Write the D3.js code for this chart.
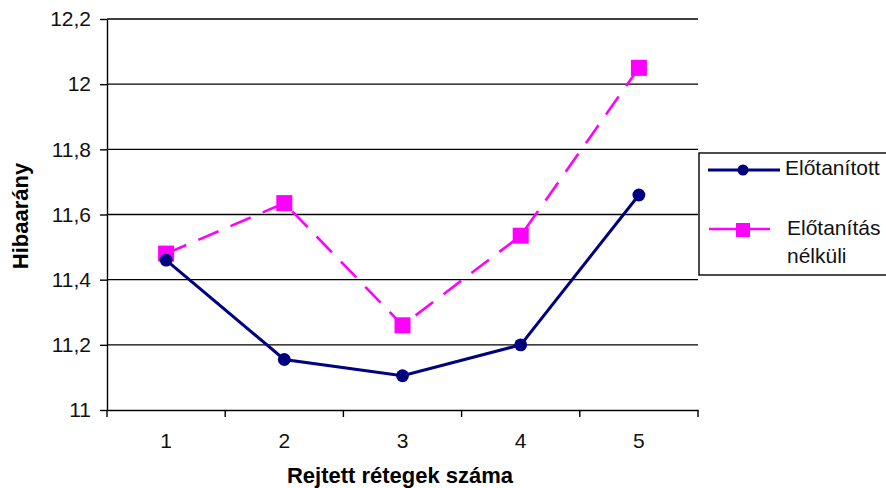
<!DOCTYPE html>
<html>
<head>
<meta charset="utf-8">
<script src="https://d3js.org/d3.v7.min.js"></script>
<style>
  body { margin: 0; background: #fff; }
  svg { font-family: "Liberation Sans", Arial, sans-serif; }
  .grid line { stroke: #000; stroke-width: 1.4px; }
  .axis path, .axis line { stroke: #000; stroke-width: 1.4px; }
  .axis text { font-size: 21px; fill: #111; }
  .title { font-size: 22px; font-weight: bold; fill: #000; }
  .legend text { font-size: 21px; fill: #111; }
</style>
</head>
<body>
<svg id="chart" width="886" height="488"></svg>
<script>
var categories = [1, 2, 3, 4, 5];
var elotanitott = [11.46, 11.155, 11.105, 11.20, 11.66];
var nelkuli = [11.48, 11.635, 11.26, 11.535, 12.05];
var yTicks = [11, 11.2, 11.4, 11.6, 11.8, 12, 12.2];

var svg = d3.select("#chart");
var mLeft = 107, mRight = 698, mTop = 19, mBottom = 410;

var x = d3.scaleBand().domain(categories).range([mLeft, mRight]);
var y = d3.scaleLinear().domain([11, 12.2]).range([mBottom, mTop]);
var fmt = function(d) { return String(+d.toFixed(1)).replace(".", ","); };

// gridlines
svg.append("g").attr("class", "grid")
  .selectAll("line").data(yTicks.slice(1)).enter().append("line")
    .attr("x1", mLeft).attr("x2", mRight)
    .attr("y1", function(d) { return y(d); })
    .attr("y2", function(d) { return y(d); });

svg.append("g").attr("class", "axis")
  .attr("transform", "translate(" + mLeft + ",0)")
  .call(d3.axisLeft(y).tickValues(yTicks).tickFormat(fmt).tickSize(7).tickSizeOuter(0).tickPadding(9));

var xAxis = svg.append("g").attr("class", "axis")
  .attr("transform", "translate(0," + mBottom + ")")
  .call(d3.axisBottom(x).tickSize(0).tickSizeOuter(0).tickPadding(23));
xAxis.selectAll(".tick line").remove();
// ticks between categories
xAxis.selectAll("line.sep").data(categories).enter().append("line")
  .attr("class", "sep")
  .attr("x1", function(d) { return x(d) + x.bandwidth(); })
  .attr("x2", function(d) { return x(d) + x.bandwidth(); })
  .attr("y1", 0).attr("y2", 7);
xAxis.append("line").attr("x1", mLeft).attr("x2", mLeft).attr("y1", 0).attr("y2", 7);

var cx = function(d, i) { return x(categories[i]) + x.bandwidth() / 2; };

// pink series (dashed)
svg.append("path").datum(nelkuli)
  .attr("fill", "none").attr("stroke", "#ff00ff").attr("stroke-width", 2.6)
  .attr("stroke-dasharray", "22,13")
  .attr("d", d3.line().x(cx).y(function(d) { return y(d); }));
svg.selectAll("rect.pt").data(nelkuli).enter().append("rect")
  .attr("class", "pt")
  .attr("x", function(d, i) { return cx(d, i) - 8; })
  .attr("y", function(d) { return y(d) - 8; })
  .attr("width", 16).attr("height", 16)
  .attr("fill", "#ff00ff");

// navy series
svg.append("path").datum(elotanitott)
  .attr("fill", "none").attr("stroke", "#000080").attr("stroke-width", 3)
  .attr("d", d3.line().x(cx).y(function(d) { return y(d); }));
svg.selectAll("path.pt").data(elotanitott).enter().append("path")
  .attr("class", "pt")
  .attr("transform", function(d, i) { return "translate(" + cx(d, i) + "," + y(d) + ")"; })
  .attr("d", d3.symbol().type(d3.symbolCircle).size(130))
  .attr("fill", "#000080");

// axis titles
svg.append("text").attr("class", "title")
  .attr("x", 400).attr("y", 483).attr("text-anchor", "middle")
  .text("Rejtett rétegek száma");
svg.append("text").attr("class", "title")
  .attr("transform", "translate(28,216) rotate(-90)")
  .attr("text-anchor", "middle")
  .text("Hibaarány");

// legend
var lg = svg.append("g").attr("class", "legend");
lg.append("rect").attr("x", 699).attr("y", 153).attr("width", 200).attr("height", 122)
  .attr("fill", "#fff").attr("stroke", "#000").attr("stroke-width", 1.4);
lg.append("line").attr("x1", 708).attr("x2", 780).attr("y1", 170).attr("y2", 170)
  .attr("stroke", "#000080").attr("stroke-width", 3);
lg.append("path").attr("transform", "translate(743,170)")
  .attr("d", d3.symbol().type(d3.symbolCircle).size(95)).attr("fill", "#000080");
lg.append("text").attr("x", 785).attr("y", 175).text("Előtanított");
lg.append("line").attr("x1", 709).attr("x2", 770).attr("y1", 229).attr("y2", 229)
  .attr("stroke", "#ff00ff").attr("stroke-width", 2.6);
lg.append("rect").attr("x", 736).attr("y", 223).attr("width", 14).attr("height", 14)
  .attr("fill", "#ff00ff");
lg.append("text").attr("x", 787).attr("y", 235).text("Előtanítás");
lg.append("text").attr("x", 787).attr("y", 263).text("nélküli");
</script>
</body>
</html>
